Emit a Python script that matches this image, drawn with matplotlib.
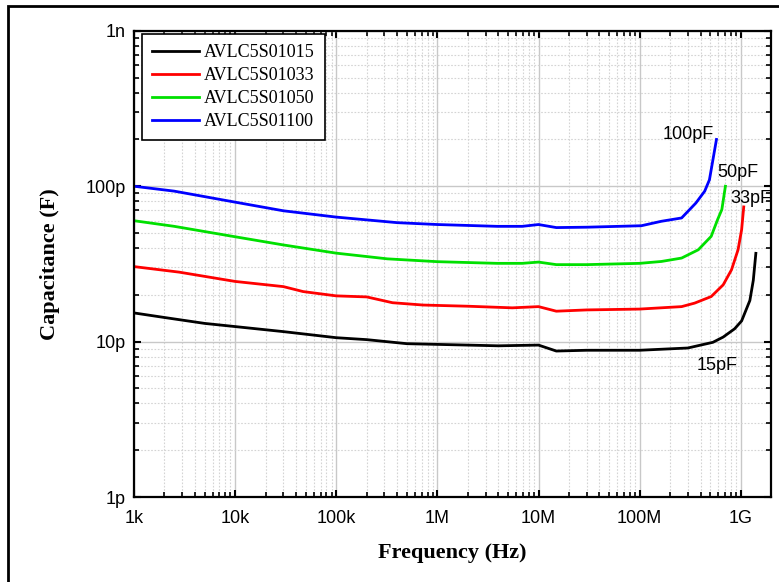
import numpy as np
import matplotlib.pyplot as plt
from matplotlib.patches import Rectangle
from matplotlib.ticker import LogLocator, FixedLocator, NullFormatter

# frequency (Hz) / capacitance (pF)
f_15 = [1e3, 2e3, 5e3, 1e4, 3e4, 1e5, 2e5, 5e5, 1e6, 4e6, 1e7, 1.5e7, 3e7, 1e8, 3e8, 5.3e8,
        6.7e8, 8.7e8, 1.02e9, 1.23e9, 1.33e9, 1.41e9]
c_15 = [15.3, 14.3, 13.1, 12.5, 11.6, 10.6, 10.3, 9.7, 9.6, 9.4, 9.5, 8.7, 8.8, 8.8, 9.1, 9.9,
        10.7, 12.1, 13.6, 18.4, 24.8, 37.0]

f_33 = [1e3, 2.8e3, 1e4, 3e4, 4.7e4, 1e5, 2e5, 3.6e5, 7.2e5, 1e6, 2e6, 5.5e6, 1e7, 1.5e7, 3e7,
        1e8, 2.6e8, 3.5e8, 5.1e8, 6.7e8, 8.1e8, 9.4e8, 1.02e9, 1.07e9]
c_33 = [30.4, 28.0, 24.4, 22.6, 21.0, 19.7, 19.4, 17.8, 17.2, 17.1, 16.9, 16.5, 16.8, 15.7, 16.0,
        16.2, 16.8, 17.7, 19.5, 23.2, 29.0, 39.0, 52.6, 73.6]

f_50 = [1e3, 2.5e3, 1e4, 3e4, 1e5, 3.2e5, 1e6, 3.9e6, 6.9e6, 1e7, 1.5e7, 3e7, 1e8, 1.64e8,
        2.6e8, 3.8e8, 5.1e8, 5.9e8, 6.5e8, 7.05e8]
c_50 = [60.0, 55.2, 47.3, 41.9, 37.1, 34.1, 32.7, 31.9, 31.9, 32.5, 31.3, 31.3, 31.9, 32.8,
        34.5, 39.0, 47.6, 61.0, 70.8, 100.0]

f_100 = [1e3, 2.5e3, 1e4, 3e4, 1e5, 4e5, 1e6, 3.9e6, 6.9e6, 1e7, 1.5e7, 3e7, 1.04e8, 1.64e8,
         2.6e8, 3.6e8, 4.4e8, 4.9e8, 5.75e8]
c_100 = [100.0, 93.0, 79.0, 69.5, 63.3, 58.3, 56.7, 55.2, 55.2, 56.7, 54.2, 54.5, 55.7, 59.5,
         62.5, 78.0, 93.0, 110.0, 200.0]

names = ["AVLC5S01015", "AVLC5S01033", "AVLC5S01050", "AVLC5S01100"]
colors = ["#000000", "#ff0000", "#00e000", "#0000ff"]

x_ticks = [1e3, 1e4, 1e5, 1e6, 1e7, 1e8, 1e9]
x_labels = ["1k", "10k", "100k", "1M", "10M", "100M", "1G"]
y_ticks = [1e-12, 1e-11, 1e-10, 1e-9]
y_labels = ["1p", "10p", "100p", "1n"]

# curve labels near the right-hand end of each curve
note_text = ["100pF", "50pF", "33pF", "15pF"]
note_f = [3.0e8, 9.3e8, 1.25e9, 5.8e8]
note_c = [2.15e-10, 1.23e-10, 8.3e-11, 7.0e-12]

fig = plt.figure(figsize=(7.79, 5.82), dpi=100)
ax = fig.add_axes([0.172, 0.146, 0.818, 0.801])

series = [(f_15, c_15), (f_33, c_33), (f_50, c_50), (f_100, c_100)]
for (f, c), name, col in zip(series, names, colors):
    ax.plot(f, np.array(c) * 1e-12, color=col, lw=2.0, label=name)

ax.set_xscale("log")
ax.set_yscale("log")
ax.set_xlim(1e3, 2e9)
ax.set_ylim(1e-12, 1e-9)

ax.xaxis.set_major_locator(FixedLocator(x_ticks))
ax.set_xticklabels(x_labels)
ax.yaxis.set_major_locator(FixedLocator(y_ticks))
ax.set_yticklabels(y_labels)
ax.xaxis.set_minor_locator(LogLocator(base=10, subs=np.arange(2, 10), numticks=20))
ax.yaxis.set_minor_locator(LogLocator(base=10, subs=np.arange(2, 10), numticks=20))
ax.xaxis.set_minor_formatter(NullFormatter())
ax.yaxis.set_minor_formatter(NullFormatter())

for lab in ax.get_xticklabels() + ax.get_yticklabels():
    lab.set_family("Liberation Sans")
    lab.set_fontsize(13)

ax.tick_params(which="major", direction="in", length=5, width=1.5, top=True, right=True)
ax.tick_params(axis="x", which="major", pad=9)
ax.tick_params(axis="y", which="major", pad=6)
ax.tick_params(which="minor", direction="in", length=3.5, width=1.2, top=True, right=True)
for s in ax.spines.values():
    s.set_linewidth(1.6)

ax.grid(which="major", color="#c8c8c8", lw=1.0, ls="-")
ax.grid(which="minor", color="#d4d4d4", lw=0.8, ls=(0, (1.5, 1.5)))
ax.set_axisbelow(True)

ax.set_xlabel("Frequency (Hz)", family="Liberation Serif", fontweight="bold", fontsize=16, labelpad=12)
ax.set_ylabel("Capacitance (F)", family="Liberation Serif", fontweight="bold", fontsize=16, labelpad=18)

leg = ax.legend(loc="upper left", bbox_to_anchor=(0.012, 0.993), prop={"family": "Liberation Serif", "size": 13},
                fancybox=False, framealpha=1, edgecolor="black", handlelength=2.6, handletextpad=0.3,
                labelspacing=0.33, borderpad=0.55, borderaxespad=0)
leg.get_frame().set_linewidth(1.2)

for txt, x, y in zip(note_text, note_f, note_c):
    ax.text(x, y, txt, ha="center", va="center", family="Liberation Sans", fontsize=13)

fig.patches.append(Rectangle((8 / 779, -0.1), 1.1, 1.1 - 5.5 / 582, transform=fig.transFigure,
                             fill=False, edgecolor="black", lw=2.0, clip_on=False))

fig.savefig("out.png", dpi=100)
